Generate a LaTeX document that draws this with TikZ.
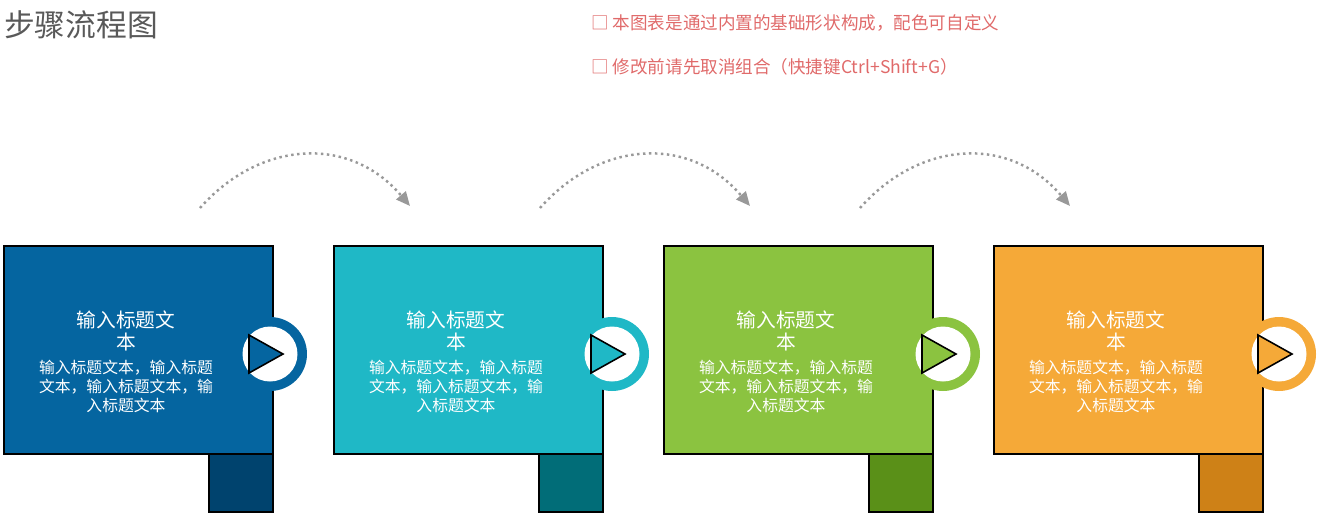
\documentclass[tikz,border=0pt]{standalone}
\usepackage{fontspec}
\setmainfont{Noto Sans CJK SC}
\usetikzlibrary{arrows.meta}
\definecolor{cA}{HTML}{0565A0}\definecolor{dA}{HTML}{00436E}
\definecolor{cB}{HTML}{1FB8C6}\definecolor{dB}{HTML}{016D78}
\definecolor{cC}{HTML}{8BC340}\definecolor{dC}{HTML}{5A9018}
\definecolor{cD}{HTML}{F5A938}\definecolor{dD}{HTML}{CE8117}
\definecolor{redt}{HTML}{E06A6A}
\tikzset{
 mainbox/.style={draw=black,line width=1.2pt,minimum width=5.38cm,minimum height=4.16cm,inner sep=0pt},
 tab/.style={draw=black,line width=1.2pt,minimum width=1.28cm,minimum height=1.16cm,inner sep=0pt},
 ttl/.style={text=white,font=\fontsize{11.2}{12.6}\selectfont,align=center},
 bdy/.style={text=white,font=\fontsize{9}{10.8}\selectfont,align=center},
 arc/.style={draw=gray!80,line width=1.4pt,dotted,-{Triangle[width=7pt,length=8pt]}},
 note/.style={text=redt,font=\fontsize{10}{12}\selectfont,anchor=west}
}
\begin{document}
\begin{tikzpicture}[x=0.02cm,y=-0.02cm]
\useasboundingbox (0,0) rectangle (1317,515);
\node[anchor=west,text=black!65,font=\fontsize{17.5}{20}\selectfont] (title) at (-2,25) {步骤流程图};
\node[note] (n1) at (585,23) {□ 本图表是通过内置的基础形状构成，配色可自定义};
\node[note] (n2) at (585,67) {□ 修改前请先取消组合（快捷键Ctrl+Shift+G）};
\foreach \i/\c/\d/\cx in {0/cA/dA/270,1/cB/dB/612,2/cC/dC/943,3/cD/dD/1279}{
 \pgfmathsetmacro{\ox}{\i*330}
 \node[tab,fill=\d] (t\i) at (\ox+241,483) {};
 \node[mainbox,fill=\c] (b\i) at (\ox+138.5,350) {};
 \node[ttl] (h\i) at (\ox+126,331) {输入标题文\\本};
 \node[bdy] (p\i) at (\ox+126,386) {输入标题文本，输入标题\\文本，输入标题文本，输\\入标题文本};
 \node[circle,fill=\c,minimum size=1.48cm,inner sep=0pt] (c\i) at (\cx,354) {};
 \node[circle,fill=white,minimum size=1.1cm,inner sep=0pt] (w\i) at (c\i) {};
 \draw[fill=\c,line width=0.9pt,line join=miter] (\cx-21,335) -- (\cx-21,373) -- (\cx+13,354) -- cycle;
}
\foreach \a in {200,540,860}{
 \coordinate (s\a) at (\a,208);
 \coordinate (e\a) at (\a+210,206);
 \draw[arc] (s\a) .. controls (\a+60,140) and (\a+150,135) .. (e\a);
}
\end{tikzpicture}
\end{document}
